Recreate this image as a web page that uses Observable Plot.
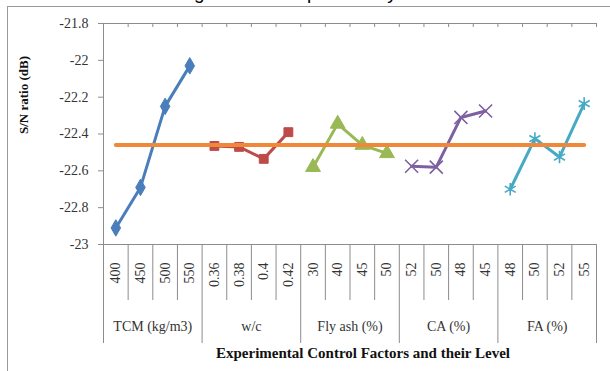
<!DOCTYPE html>
<html>
<head>
<meta charset="utf-8">
<script src="https://cdn.jsdelivr.net/npm/d3@7"></script>
<script src="https://cdn.jsdelivr.net/npm/@observablehq/plot@0.6"></script>
<style>
  html, body { margin: 0; padding: 0; background: #fff; overflow: hidden; }
  #wrap { position: relative; width: 610px; height: 371px; overflow: hidden; }
  #title { position: absolute; left: 0; width: 610px; top: -16px; text-align: center;
           font-family: "Liberation Sans", Arial, sans-serif; font-size: 19px; line-height: 18px; color: #000; white-space: nowrap; }
  #frame { position: absolute; left: 7px; top: 6px; width: 700px; height: 400px;
           border-left: 1px solid #9a9a9a; border-top: 1px solid #9a9a9a; pointer-events: none; }
  #chart { position: absolute; left: 0; top: 0; }
  #chart svg, #chart svg text { font-family: "Liberation Serif", "Times New Roman", serif; }
</style>
</head>
<body>
<div id="wrap">
  <div id="title">Average S/N Ratio plot of Key Factors</div>
  <div id="frame"></div>
  <div id="chart"></div>
</div>
<script>
// ---- data ----
const groups = ["TCM (kg/m3)", "w/c", "Fly ash (%)", "CA (%)", "FA (%)"];
const tcmLevels = ["400", "450", "500", "550"];
const wcLevels = ["0.36", "0.38", "0.4", "0.42"];
const flyAshLevels = ["30", "40", "45", "50"];
const caLevels = ["52", "50", "48", "45"];
const faLevels = ["48", "50", "52", "55"];
const tcmValues = [-22.91, -22.69, -22.25, -22.03];
const wcValues = [-22.465, -22.47, -22.535, -22.39];
const flyAshValues = [-22.58, -22.345, -22.46, -22.505];
const caValues = [-22.575, -22.58, -22.31, -22.275];
const faValues = [-22.70, -22.425, -22.525, -22.235];
const meanValue = -22.46;
const yTicks = [-21.8, -22, -22.2, -22.4, -22.6, -22.8, -23];
const xTitle = "Experimental Control Factors and their Level";
const yTitle = "S/N ratio (dB)";

const colors = ["#4a7ebb", "#be4b48", "#98b954", "#7d60a0", "#46aac5"];
const symbols = ["diamond", "square", "triangle", "times", "asterisk"];
const meanColor = "#f0883a";

const levelSets = [tcmLevels, wcLevels, flyAshLevels, caLevels, faLevels];
const valueSets = [tcmValues, wcValues, flyAshValues, caValues, faValues];

// ---- table ----
const rows = [];
levelSets.forEach((lv, g) => lv.forEach((l, j) => {
  rows.push({group: groups[g], gi: g, level: l, idx: rows.length, value: valueSets[g][j]});
}));
const nCat = rows.length;
const meanRows = rows.map(r => ({idx: r.idx, value: meanValue}));
const boundaries = d3.range(nCat + 1);
const groupBounds = [0];
levelSets.forEach(lv => groupBounds.push(groupBounds[groupBounds.length - 1] + lv.length));
const minorBounds = boundaries.filter(b => !groupBounds.includes(b));
const groupCenters = groups.map((g, i) => ({name: g, c: (groupBounds[i] + groupBounds[i + 1]) / 2}));

const W = 610, H = 371, mT = 23, mB = 127, mL = 103, mR = 14;
const plotH = H - mT - mB;
const axisColor = "#8c8c8c";
const serif = "'Liberation Serif', 'Times New Roman', serif";

const chart = Plot.plot({
  width: W, height: H,
  marginTop: mT, marginBottom: mB, marginLeft: mL, marginRight: mR,
  style: {fontFamily: serif, fontSize: "14px", color: "#333", background: "transparent"},
  x: {type: "linear", domain: [0, nCat], axis: null},
  y: {domain: [-23, -21.8], axis: null},
  color: {domain: groups, range: colors},
  marks: [
    Plot.ruleY([-21.8, -23], {stroke: axisColor}),
    Plot.ruleX([0], {stroke: axisColor}),
    Plot.ruleX(boundaries, {x: d => d, stroke: axisColor, insetBottom: plotH - 4}),
    Plot.ruleX(minorBounds, {x: d => d, stroke: axisColor, insetTop: plotH, insetBottom: -56}),
    Plot.ruleX(groupBounds, {x: d => d, stroke: axisColor, insetTop: plotH, insetBottom: -99}),
    Plot.axisY(yTicks, {tickSize: 5, tickPadding: 10, stroke: axisColor, fill: "#333", label: null,
      tickFormat: d => String(d), fontSize: 14, fontFamily: serif}),
    Plot.line(rows, {x: d => d.idx + 0.5, y: "value", z: "group", stroke: "group", strokeWidth: 3}),
    ...groups.map((g, i) => Plot.dot(rows.filter(r => r.gi === i), {
      x: d => d.idx + 0.5, y: "value", symbol: () => symbols[i],
      r: i === 2 ? 5.5 : (i >= 3 ? 6 : 5),
      fill: (i >= 3) ? "none" : colors[i],
      stroke: colors[i], strokeWidth: i >= 3 ? 1.6 : 1
    })),
    Plot.line(meanRows, {x: d => d.idx + 0.5, y: "value", stroke: meanColor, strokeWidth: 4}),
    Plot.text(rows, {x: d => d.idx + 0.5, text: "level", frameAnchor: "bottom", dy: 18,
      rotate: -90, textAnchor: "end", lineAnchor: "middle", fill: "#333", fontSize: 14, fontFamily: serif}),
    Plot.text(groupCenters, {x: "c", text: "name", frameAnchor: "bottom", dy: 86,
      lineAnchor: "bottom", fill: "#333", fontSize: 14, fontFamily: serif}),
    Plot.text([xTitle], {frameAnchor: "bottom", dy: 113, dx: 13, lineAnchor: "bottom",
      fontWeight: "bold", fontSize: 15, fill: "#111", fontFamily: serif}),
    Plot.text([yTitle], {frameAnchor: "left", dx: -80, rotate: -90, lineAnchor: "middle",
      fontWeight: "bold", fontSize: 13, fill: "#111", fontFamily: serif})
  ]
});
document.getElementById("chart").appendChild(chart);
</script>
</body>
</html>
